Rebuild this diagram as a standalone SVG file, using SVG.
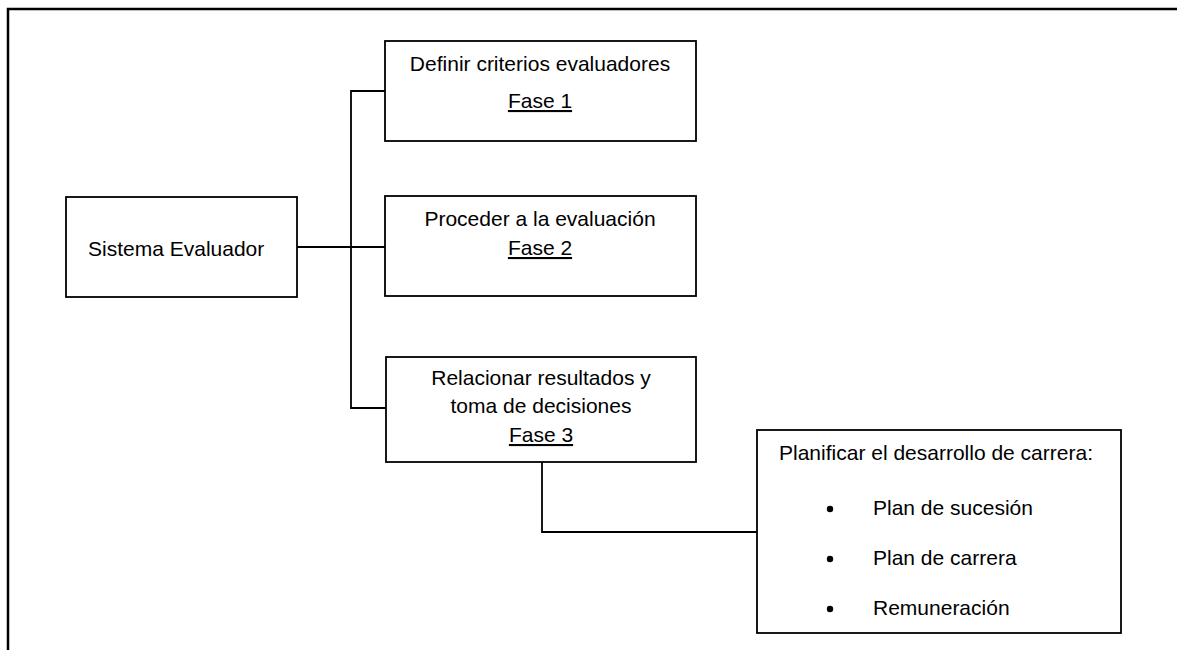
<svg xmlns="http://www.w3.org/2000/svg" width="1177" height="650" viewBox="0 0 1177 650">
<style>
.box{fill:#fff;stroke:#000;stroke-width:1.8}
.ln{fill:none;stroke:#000;stroke-width:1.8}
.t{font-family:"Liberation Sans",Arial,sans-serif;font-size:21px;fill:#000}
.c{text-anchor:middle}
.u{text-decoration:underline}
</style>
<rect width="1177" height="650" fill="#fff"/>
<g id="frame"><path d="M8,650 V9 H1177" fill="none" stroke="#000" stroke-width="2.5"/></g>
<g id="connectors">
<path class="ln" d="M297,247 H385"/>
<path class="ln" d="M385,91 H351 V408 H386"/>
<path class="ln" d="M542,462 V532 H757"/>
</g>
<g id="sistema">
<rect class="box" x="66" y="197" width="231" height="100"/>
<text class="t" x="88" y="256">Sistema Evaluador</text>
</g>
<g id="fase1">
<rect class="box" x="385" y="41" width="311" height="100"/>
<text class="t c" x="540" y="71">Definir criterios evaluadores</text>
<text class="t c u" x="540" y="108">Fase 1</text>
</g>
<g id="fase2">
<rect class="box" x="385" y="196" width="311" height="100"/>
<text class="t c" x="540" y="226">Proceder a la evaluación</text>
<text class="t c u" x="540" y="255">Fase 2</text>
</g>
<g id="fase3">
<rect class="box" x="386" y="357" width="310" height="105"/>
<text class="t c" x="541" y="385">Relacionar resultados y</text>
<text class="t c" x="541" y="413">toma de decisiones</text>
<text class="t c u" x="541" y="442">Fase 3</text>
</g>
<g id="planificar">
<rect class="box" x="757" y="430" width="364" height="203"/>
<text class="t" x="779" y="460">Planificar el desarrollo de carrera:</text>
<circle cx="830" cy="509" r="3.2"/>
<text class="t" x="873" y="515">Plan de sucesión</text>
<circle cx="830" cy="559" r="3.2"/>
<text class="t" x="873" y="565">Plan de carrera</text>
<circle cx="830" cy="609" r="3.2"/>
<text class="t" x="873" y="615">Remuneración</text>
</g>
</svg>
